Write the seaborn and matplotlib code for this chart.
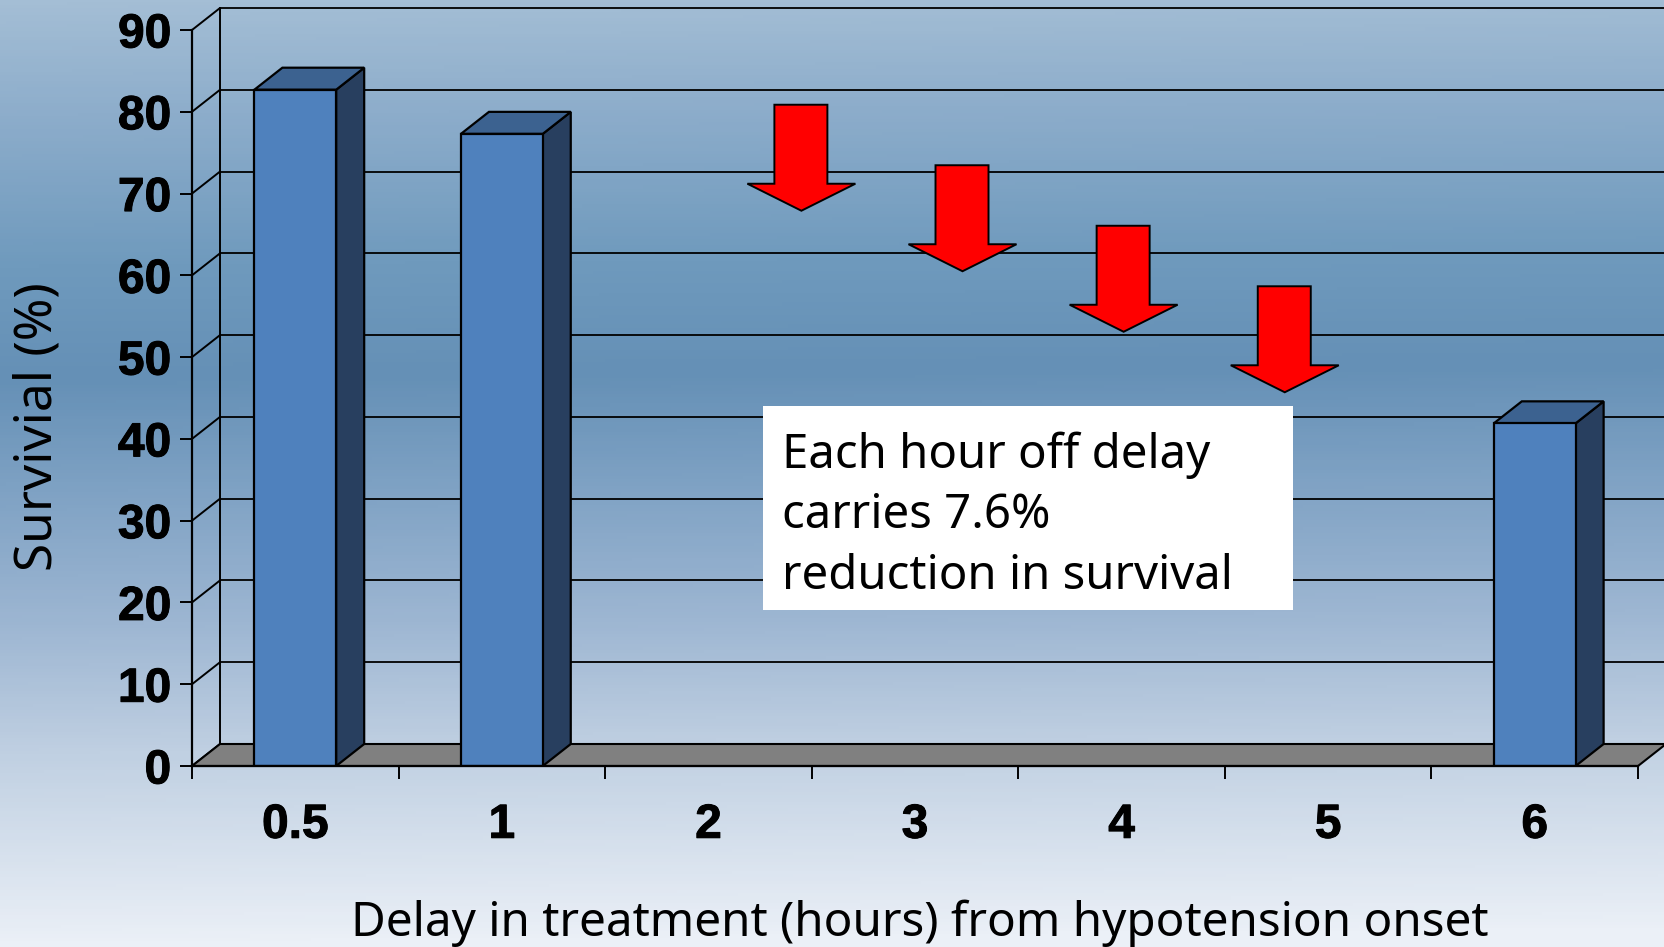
import numpy as np
import pandas as pd
import seaborn as sns
import matplotlib
matplotlib.use('Agg')
import matplotlib.pyplot as plt
import matplotlib.patheffects as pe
from matplotlib.colors import LinearSegmentedColormap
from matplotlib.patches import Polygon, Rectangle
from matplotlib.transforms import Affine2D, IdentityTransform

delays = ['0.5', '1', '2', '3', '4', '5', '6']
survival = [82.7, 77.3, np.nan, np.nan, np.nan, np.nan, 41.9]
y_ticks = [0, 10, 20, 30, 40, 50, 60, 70, 80, 90]
arrow_x = [2.45, 3.23, 4.01, 4.79]
arrow_y = [67.9, 60.5, 53.1, 45.7]
note_lines = ['Each hour off delay', 'carries 7.6%', 'reduction in survival']

W, H = 1664, 947
DX, DY = 28, 22  # depth of the fake 3d, in pixels
bold = 'Liberation Sans'
plain = 'Noto Sans'

sns.set_theme(style='white')
fig = plt.figure(figsize=(W/100, H/100), dpi=100)

# slide background
bg = fig.add_axes([0, 0, 1, 1], zorder=-1)
stops = [(0, '#a4bed5'), (0.12, '#8dadcb'), (0.28, '#6f9abd'), (0.40, '#6590b6'),
         (0.52, '#7fa2c4'), (0.66, '#9db6d2'), (0.80, '#c0d0e2'), (1, '#ebf0f7')]
cmap = LinearSegmentedColormap.from_list('slide', stops)
yy, xx = np.mgrid[0:1:300j, 0:1:300j]
bg.imshow(np.clip(yy + 0.015*xx, 0, 1), cmap=cmap, vmin=0, vmax=1, aspect='auto', extent=[0, 1, 1, 0])
bg.axis('off')

ax = fig.add_axes([192/W, 1-766/H, 1446/W, 736/H], zorder=1)
ax.patch.set_alpha(0)
df = pd.DataFrame({'delay': delays, 'survival': survival})
sns.barplot(data=df, x='delay', y='survival', order=delays, width=0.396, color='#4f81bd',
            saturation=1, edgecolor='black', linewidth=1.6, ax=ax, zorder=4)
ax.set_xlim(-0.5, 6.5)
ax.set_ylim(0, 90)
fig.canvas.draw()

# back wall and floor
back = ax.transData + Affine2D().translate(DX, DY)
for v in y_ticks:
    ax.plot([-0.5, 6.5], [v, v], color='black', lw=1.3, transform=back, clip_on=False, zorder=1)
    p0 = ax.transData.transform((-0.5, v))
    ax.plot([p0[0], p0[0]+DX], [p0[1], p0[1]+DY], color='black', lw=1.4,
            transform=IdentityTransform(), clip_on=False, zorder=2)
ax.plot([-0.5, -0.5], [0, 90], color='black', lw=1.4, transform=back, clip_on=False, zorder=1)
a = ax.transData.transform((-0.5, 0))
b = ax.transData.transform((6.5, 0))
ax.add_patch(Polygon([a, a+[DX, DY], b+[DX, DY], b], closed=True, fc='#808080', ec='black', lw=1.5,
                     transform=IdentityTransform(), clip_on=False, zorder=2))

# side and top faces of the bars
for bar in ax.patches:
    if not isinstance(bar, Rectangle) or not np.isfinite(bar.get_height()) or bar.get_height() == 0:
        continue
    x0, x1 = bar.get_x(), bar.get_x()+bar.get_width()
    h = bar.get_height()
    bl, br = ax.transData.transform((x0, 0)), ax.transData.transform((x1, 0))
    tl, tr = ax.transData.transform((x0, h)), ax.transData.transform((x1, h))
    off = np.array([DX, DY])
    ax.add_patch(Polygon([tr, tr+off, br+off, br], closed=True, fc='#283f5f', ec='black', lw=1.6,
                         transform=IdentityTransform(), clip_on=False, zorder=3))
    ax.add_patch(Polygon([tl, tl+off, tr+off, tr], closed=True, fc='#3c6290', ec='black', lw=1.6,
                         transform=IdentityTransform(), clip_on=False, zorder=3))

# axes
sns.despine(ax=ax, top=True, right=True)
for s in ['left', 'bottom']:
    ax.spines[s].set_linewidth(1.6)
    ax.spines[s].set_color('black')
    ax.spines[s].set_zorder(6)
ax.set_yticks(y_ticks)
ax.set_xticks(range(len(delays)))
ax.set_xticklabels(delays)
ax.set_xticks(np.arange(-0.5, 7, 1), minor=True)
ax.tick_params(axis='x', which='major', length=0, pad=26.5)
ax.tick_params(axis='x', which='minor', bottom=True, length=9, width=1.4, color='black')
ax.tick_params(axis='y', left=True, length=9, width=1.4, color='black', pad=6)
for t in ax.get_xticklabels() + ax.get_yticklabels():
    t.set_fontfamily(bold)
    t.set_fontweight('bold')
    t.set_fontsize(34.5)
    t.set_color('black')
    t.set_path_effects([pe.withStroke(linewidth=0.7, foreground='black')])

ax.set_xlabel('Delay in treatment (hours) from hypotension onset', fontsize=34.3, family=plain,
              color='black', va='baseline')
ax.xaxis.set_label_coords(0.503, -0.2305)
ax.set_ylabel('Survivial (%)', fontsize=37, family=plain, color='black', va='center')
ax.yaxis.set_label_coords(-0.1065, 0.461)

# red arrows
shape = np.array([[0, 0], [-54, 27], [-27, 27], [-27, 106], [26, 106], [26, 27], [54, 27]])
for xa, ya in zip(arrow_x, arrow_y):
    tip = ax.transData.transform((xa, ya))
    ax.add_patch(Polygon(tip+shape, closed=True, fc='#ff0000', ec='black', lw=1.4,
                         transform=IdentityTransform(), clip_on=False, zorder=7))

# note box, pixel coords
over = fig.add_axes([0, 0, 1, 1], zorder=5)
over.set_xlim(0, W)
over.set_ylim(H, 0)
over.axis('off')
over.add_patch(Rectangle((763, 406), 530, 204, fc='white', ec='none'))
for line, base in zip(note_lines, [468, 528, 589]):
    over.text(782, base, line, fontsize=34.1, family=plain, color='black', va='baseline', ha='left')

fig.savefig('out.png', dpi=100)
